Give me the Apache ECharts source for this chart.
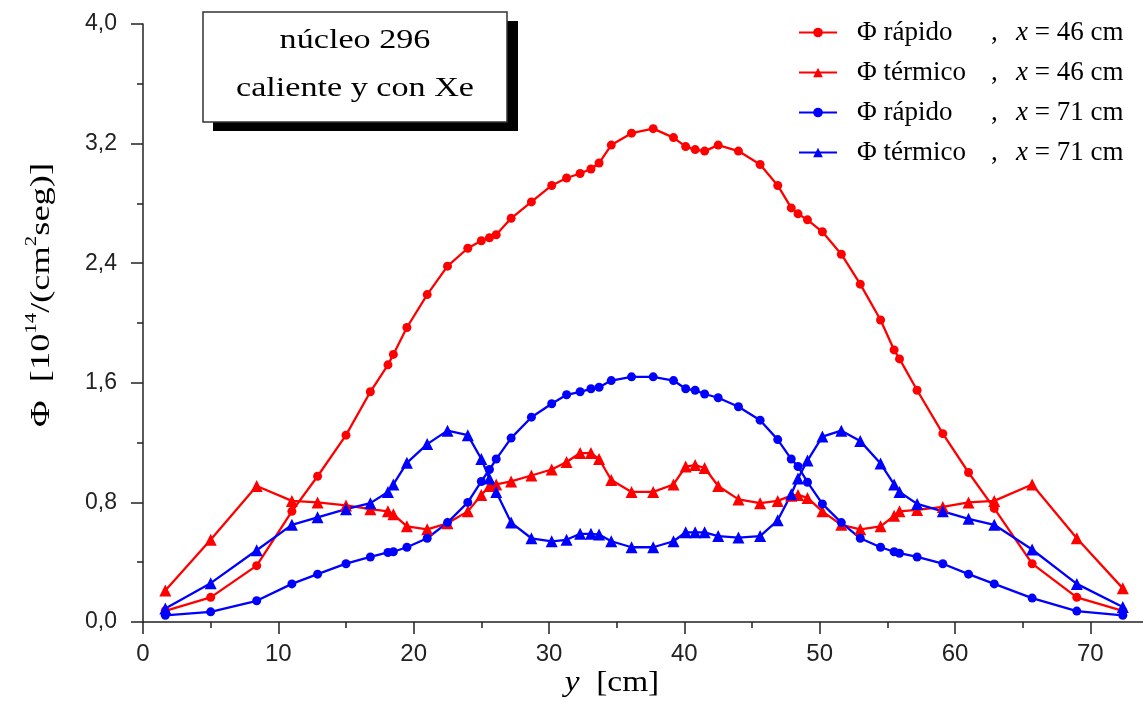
<!DOCTYPE html>
<html>
<head>
<meta charset="utf-8">
<script src="https://cdn.jsdelivr.net/npm/echarts@6/dist/echarts.min.js"></script>
<style>
html,body{margin:0;padding:0;background:#fff;}
#c{width:1143px;height:705px;}
</style>
</head>
<body>
<div id="c"></div>
<script>
// positions along y [cm]
const yPos = [1.65, 5.0, 8.4, 11.0, 12.9, 15.0, 16.8, 18.1, 18.5, 19.5, 21.0, 22.5, 24.0, 25.0, 25.6, 26.1, 27.2, 28.7, 30.2, 31.3, 32.3, 33.1, 33.7, 34.6, 36.1, 37.7, 39.2, 40.1, 40.8, 41.5, 42.5, 44.0, 45.6, 46.9, 47.9, 48.4, 49.1, 50.2, 51.6, 53.0, 54.5, 55.5, 55.9, 57.2, 59.1, 61.0, 62.9, 65.7, 69.0, 72.4];
// Φ rápido, x = 46 cm
const rapido46 = [0.075, 0.165, 0.377, 0.74, 0.975, 1.25, 1.54, 1.72, 1.79, 1.97, 2.19, 2.38, 2.50, 2.55, 2.57, 2.59, 2.70, 2.81, 2.92, 2.97, 3.00, 3.03, 3.07, 3.19, 3.27, 3.30, 3.24, 3.18, 3.16, 3.15, 3.19, 3.15, 3.06, 2.92, 2.77, 2.73, 2.69, 2.61, 2.46, 2.26, 2.02, 1.82, 1.76, 1.55, 1.26, 1.00, 0.76, 0.39, 0.165, 0.075];
// Φ térmico, x = 46 cm
const termico46 = [0.21, 0.55, 0.91, 0.81, 0.80, 0.78, 0.755, 0.74, 0.72, 0.64, 0.62, 0.66, 0.74, 0.85, 0.91, 0.92, 0.94, 0.98, 1.02, 1.07, 1.13, 1.13, 1.09, 0.95, 0.87, 0.87, 0.92, 1.04, 1.05, 1.03, 0.91, 0.82, 0.795, 0.81, 0.845, 0.85, 0.83, 0.74, 0.65, 0.62, 0.64, 0.71, 0.74, 0.75, 0.77, 0.80, 0.81, 0.92, 0.56, 0.225];
// Φ rápido, x = 71 cm
const rapido71 = [0.045, 0.068, 0.142, 0.255, 0.32, 0.39, 0.435, 0.465, 0.47, 0.50, 0.56, 0.665, 0.80, 0.94, 1.02, 1.09, 1.23, 1.37, 1.46, 1.52, 1.54, 1.56, 1.57, 1.615, 1.64, 1.64, 1.615, 1.56, 1.55, 1.525, 1.50, 1.44, 1.35, 1.22, 1.09, 1.04, 0.935, 0.79, 0.665, 0.56, 0.50, 0.47, 0.46, 0.435, 0.39, 0.32, 0.255, 0.16, 0.073, 0.045];
// Φ térmico, x = 71 cm
const termico71 = [0.09, 0.26, 0.48, 0.65, 0.70, 0.755, 0.795, 0.87, 0.92, 1.065, 1.19, 1.28, 1.25, 1.09, 0.96, 0.87, 0.665, 0.56, 0.54, 0.55, 0.59, 0.59, 0.585, 0.54, 0.50, 0.50, 0.54, 0.60, 0.60, 0.60, 0.575, 0.565, 0.575, 0.68, 0.855, 0.96, 1.08, 1.24, 1.28, 1.21, 1.06, 0.92, 0.87, 0.79, 0.74, 0.69, 0.65, 0.485, 0.255, 0.10];

const legendText = {
  'rf46': ['Φ rápido', '46'],
  'rt46': ['Φ térmico', '46'],
  'rf71': ['Φ rápido', '71'],
  'rt71': ['Φ térmico', '71']
};

const RED = '#ff0000', BLUE = '#0000ff';
const SERIF = '"Liberation Serif", "Times New Roman", serif';
const SANS = '"Liberation Sans", Arial, sans-serif';

function mk(name, arr, color, symbol, size) {
  return {
    name: name,
    type: 'line',
    data: yPos.map((v, i) => [v, arr[i]]),
    symbol: symbol,
    symbolSize: size,
    lineStyle: { color: color, width: 2.3 },
    itemStyle: { color: color },
    emphasis: { disabled: true },
    animation: false
  };
}

const chart = echarts.init(document.getElementById('c'), null, { renderer: 'canvas' });
chart.setOption({
  backgroundColor: '#ffffff',
  animation: false,
  grid: { left: 143, top: 24, right: -15, bottom: 83, outerBoundsMode: 'none', containLabel: false },
  xAxis: {
    type: 'value', min: 0, max: 75, interval: 10,
    axisLine: { show: true, lineStyle: { color: '#222', width: 1.5 } },
    axisTick: { show: true, length: 12, lineStyle: { color: '#222', width: 1.5 } },
    minorTick: { show: true, splitNumber: 2, length: 6, lineStyle: { color: '#222', width: 1.5 } },
    splitLine: { show: false },
    axisLabel: { margin: 20, fontFamily: SANS, fontSize: 24, color: '#222', showMaxLabel: false,
      formatter: v => String(v) }
  },
  yAxis: {
    type: 'value', min: 0, max: 4, interval: 0.8,
    axisLine: { show: true, lineStyle: { color: '#222', width: 1.5 } },
    axisTick: { show: true, length: 12, lineStyle: { color: '#222', width: 1.5 } },
    minorTick: { show: true, splitNumber: 2, length: 6, lineStyle: { color: '#222', width: 1.5 } },
    splitLine: { show: false },
    axisLabel: { margin: 26, fontFamily: SANS, fontSize: 23, color: '#222',
      formatter: v => v.toFixed(1).replace('.', ',') }
  },
  legend: {
    orient: 'vertical', left: 793, top: 14,
    itemWidth: 38, itemHeight: 12, itemGap: 13,
    selectedMode: false,
    data: ['rf46', 'rt46', 'rf71', 'rt71'],
    formatter: function (name) {
      const t = legendText[name];
      return '{p|}{n|' + t[0] + '}{c|,}{i|x}{t| = ' + t[1] + ' cm}';
    },
    textStyle: {
      fontFamily: SERIF, fontSize: 27, color: '#000',
      rich: {
        p: { width: 15, fontSize: 27, lineHeight: 28 },
        n: { width: 134, fontFamily: SERIF, fontSize: 27, lineHeight: 28, color: '#000' },
        c: { width: 25, fontFamily: SERIF, fontSize: 27, lineHeight: 28, color: '#000' },
        i: { fontFamily: SERIF, fontSize: 27, fontStyle: 'italic', lineHeight: 28, color: '#000' },
        t: { fontFamily: SERIF, fontSize: 27, lineHeight: 28, color: '#000' }
      }
    }
  },
  series: [
    mk('rf46', rapido46, RED, 'circle', 9),
    mk('rt46', termico46, RED, 'triangle', 12),
    mk('rf71', rapido71, BLUE, 'circle', 9),
    mk('rt71', termico71, BLUE, 'triangle', 12)
  ],
  graphic: [
    { type: 'rect', shape: { x: 213, y: 21, width: 305, height: 110 }, style: { fill: '#000' }, z: 10 },
    { type: 'rect', shape: { x: 203, y: 12, width: 304, height: 110 }, style: { fill: '#fff', stroke: '#333', lineWidth: 1.5 }, z: 11 },
    { type: 'text', x: 355, y: 41, scaleX: 1.22, z: 12,
      style: { text: 'núcleo 296', font: '28px ' + SERIF, fill: '#000', align: 'center', verticalAlign: 'middle' } },
    { type: 'text', x: 355, y: 89, scaleX: 1.22, z: 12,
      style: { text: 'caliente y con Xe', font: '28px ' + SERIF, fill: '#000', align: 'center', verticalAlign: 'middle' } },
    { type: 'text', x: 612, y: 683, scaleX: 1.15, z: 12,
      style: {
        text: '{i|y}{n|  [cm]}', align: 'center', verticalAlign: 'middle',
        rich: {
          i: { fontFamily: SERIF, fontSize: 29, fontStyle: 'italic', fill: '#000' },
          n: { fontFamily: SERIF, fontSize: 29, fill: '#000' }
        }
      } },
    { type: 'text', x: 40, y: 295, rotation: Math.PI / 2, scaleX: 1.3, z: 12,
      style: {
        text: '{a|Φ  [10}{s|14}{a|/(cm}{s|2}{a|seg)]}', align: 'center', verticalAlign: 'middle',
        rich: {
          a: { fontFamily: SERIF, fontSize: 28, lineHeight: 32, fill: '#000', verticalAlign: 'bottom' },
          s: { fontFamily: SERIF, fontSize: 16, lineHeight: 18, fill: '#000', verticalAlign: 'top' }
        }
      } }
  ]
});
</script>
</body>
</html>
